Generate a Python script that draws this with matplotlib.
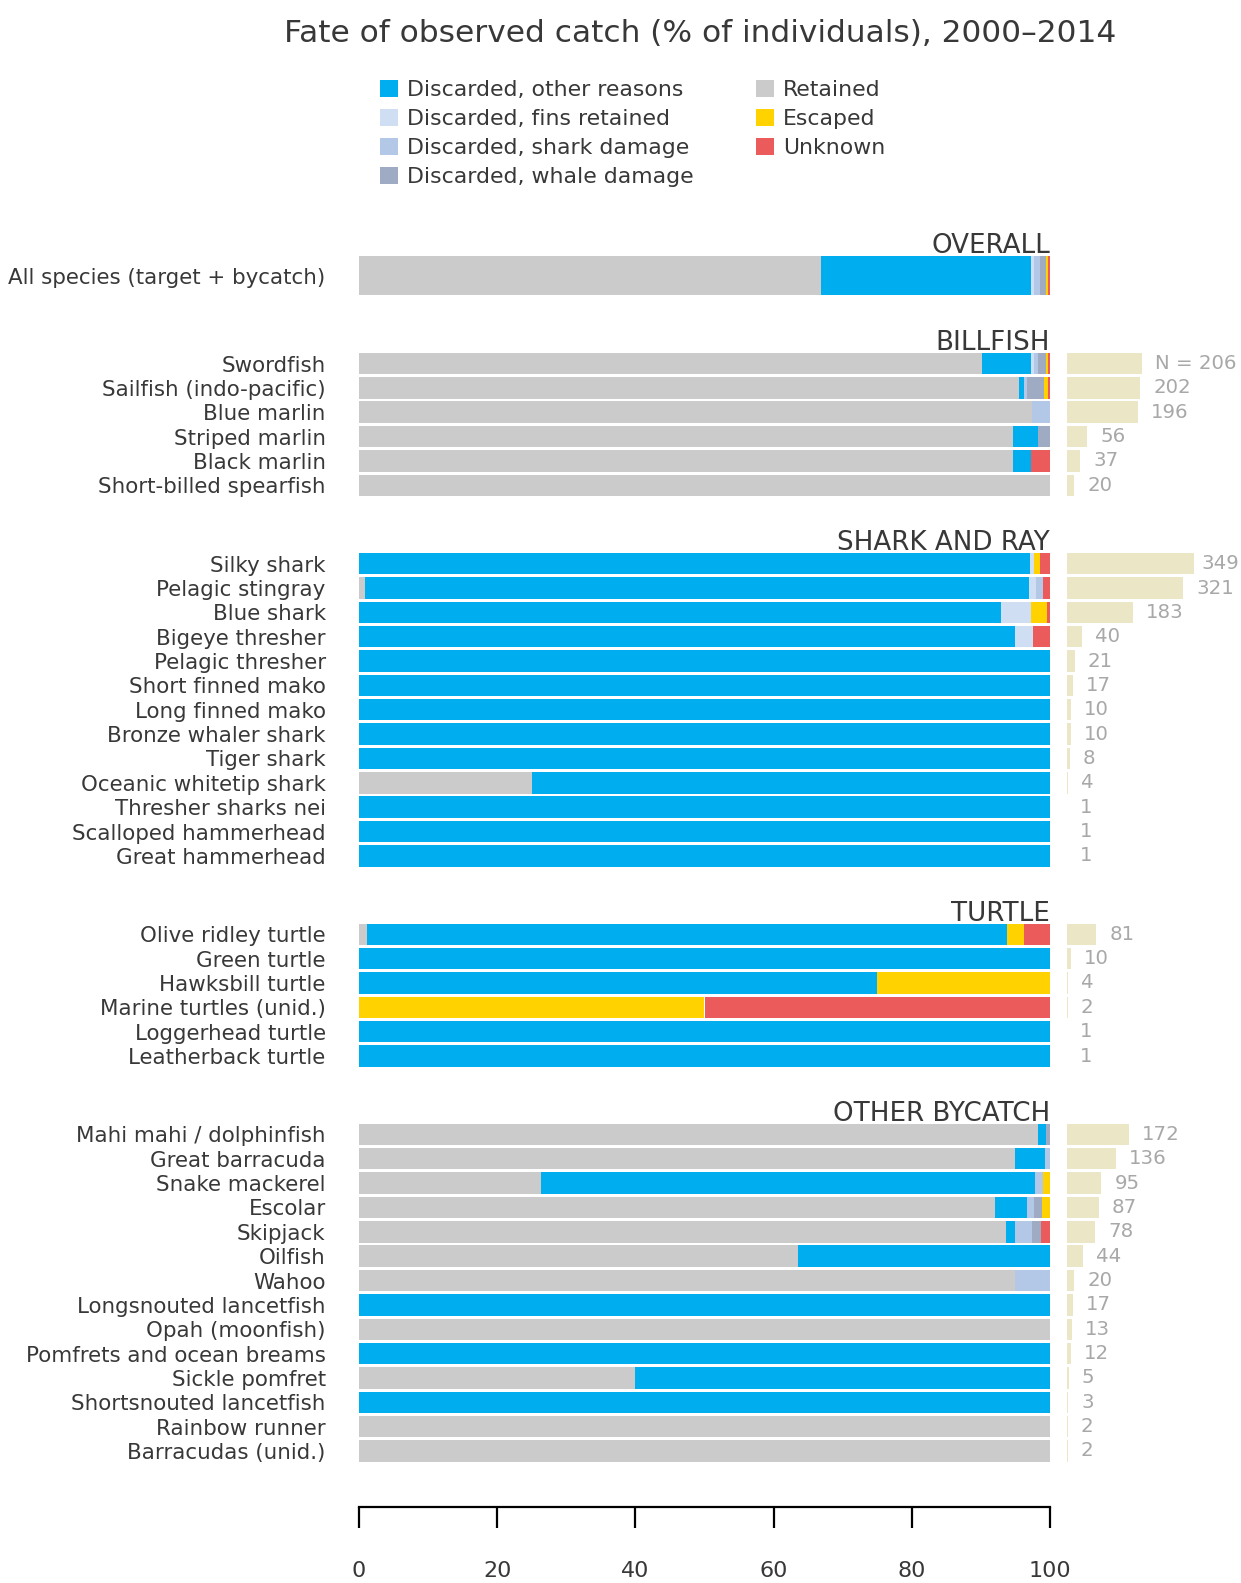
import matplotlib
matplotlib.use('Agg')
import matplotlib.pyplot as plt
from matplotlib.patches import Patch
import numpy as np

# ---------------- data ----------------
title = "Fate of observed catch (% of individuals), 2000–2014"

fate_names = ["Discarded, other reasons", "Discarded, fins retained",
              "Discarded, shark damage", "Discarded, whale damage",
              "Retained", "Escaped", "Unknown"]
fate_colors = ["#00aeef", "#d0def4", "#b3c8e6", "#9eabc2",
               "#cbcbcb", "#ffd200", "#ec5b5b"]

group_names = ["OVERALL", "BILLFISH", "SHARK AND RAY", "TURTLE", "OTHER BYCATCH"]

overall_species = ["All species (target + bycatch)"]
billfish_species = ["Swordfish", "Sailfish (indo-pacific)", "Blue marlin",
                    "Striped marlin", "Black marlin", "Short-billed spearfish"]
shark_species = ["Silky shark", "Pelagic stingray", "Blue shark", "Bigeye thresher",
                 "Pelagic thresher", "Short finned mako", "Long finned mako",
                 "Bronze whaler shark", "Tiger shark", "Oceanic whitetip shark",
                 "Thresher sharks nei", "Scalloped hammerhead", "Great hammerhead"]
turtle_species = ["Olive ridley turtle", "Green turtle", "Hawksbill turtle",
                  "Marine turtles (unid.)", "Loggerhead turtle", "Leatherback turtle"]
other_species = ["Mahi mahi / dolphinfish", "Great barracuda", "Snake mackerel",
                 "Escolar", "Skipjack", "Oilfish", "Wahoo", "Longsnouted lancetfish",
                 "Opah (moonfish)", "Pomfrets and ocean breams", "Sickle pomfret",
                 "Shortsnouted lancetfish", "Rainbow runner", "Barracudas (unid.)"]

# percentages per row (order: overall, billfish, sharks, turtles, other)
retained = [66.8,
            90.2, 95.5, 97.4, 94.6, 94.6, 100,
            0, 0.9, 0, 0, 0, 0, 0, 0, 0, 25, 0, 0, 0,
            1.2, 0, 0, 0, 0, 0,
            98.3, 94.9, 26.3, 92.0, 93.6, 63.6, 95, 0, 100, 0, 40, 0, 100, 100]
disc_other = [30.4,
              7.0, 0.7, 0, 3.6, 2.7, 0,
              97.1, 96.1, 92.9, 95.0, 100, 100, 100, 100, 100, 75, 100, 100, 100,
              92.6, 100, 75, 0, 100, 100,
              1.1, 4.4, 71.6, 4.6, 1.3, 36.4, 0, 100, 0, 100, 60, 100, 0, 0]
disc_fins = [0.5,
             0.5, 0, 0, 0, 0, 0,
             0.6, 1.0, 4.4, 2.5, 0, 0, 0, 0, 0, 0, 0, 0, 0,
             0, 0, 0, 0, 0, 0,
             0, 0, 0, 0, 0, 0, 0, 0, 0, 0, 0, 0, 0, 0]
disc_shark = [0.8,
              0.6, 0.5, 2.6, 0, 0, 0,
              0, 1.0, 0, 0, 0, 0, 0, 0, 0, 0, 0, 0, 0,
              0, 0, 0, 0, 0, 0,
              0, 0.7, 1.05, 1.15, 2.55, 0, 5, 0, 0, 0, 0, 0, 0, 0]
disc_whale = [0.9,
              1.1, 2.5, 0, 1.8, 0, 0,
              0, 0, 0, 0, 0, 0, 0, 0, 0, 0, 0, 0, 0,
              0, 0, 0, 0, 0, 0,
              0.6, 0, 0, 1.15, 1.3, 0, 0, 0, 0, 0, 0, 0, 0, 0]
escaped = [0.3,
           0.3, 0.5, 0, 0, 0, 0,
           0.9, 0, 2.2, 0, 0, 0, 0, 0, 0, 0, 0, 0, 0,
           2.5, 0, 25, 50, 0, 0,
           0, 0, 1.05, 1.1, 0, 0, 0, 0, 0, 0, 0, 0, 0, 0]
unknown = [0.3,
           0.3, 0.3, 0, 0, 2.7, 0,
           1.4, 1.0, 0.5, 2.5, 0, 0, 0, 0, 0, 0, 0, 0, 0,
           3.7, 0, 0, 50, 0, 0,
           0, 0, 0, 0, 1.25, 0, 0, 0, 0, 0, 0, 0, 0, 0]

# sample sizes (overall has none)
n_billfish = [206, 202, 196, 56, 37, 20]
n_shark = [349, 321, 183, 40, 21, 17, 10, 10, 8, 4, 1, 1, 1]
n_turtle = [81, 10, 4, 2, 1, 1]
n_other = [172, 136, 95, 87, 78, 44, 20, 17, 13, 12, 5, 3, 2, 2]

# ---------------- style ----------------
plt.rcParams['font.family'] = ['DejaVu Sans']
txt_color = '#383838'

W, H = 1241, 1583
fig = plt.figure(figsize=(W / 100, H / 100), dpi=100)

# layout (row units)
unit = 24.35          # px per row
y_first_px = 275.6    # pixel centre of first row
first_gap = 3.61
group_gap = 3.22
overall_h = 1.58
row_h = 0.88

group_lists = [overall_species, billfish_species, shark_species, turtle_species, other_species]
ypos, heights, labels, group_start = [], [], [], []
y = 0.0
for gi, lst in enumerate(group_lists):
    if gi == 1:
        y += first_gap - 1
    elif gi > 1:
        y += group_gap - 1
    group_start.append(y)
    for s in lst:
        ypos.append(y)
        heights.append(overall_h if gi == 0 else row_h)
        labels.append(s)
        y += 1
ypos = np.array(ypos)
heights = np.array(heights)

ytop = -2.0
ybot = (1507 - y_first_px) / unit
ax_bottom = 1 - 1507 / H
ax_height = (1507 - (y_first_px + ytop * unit)) / H
ax = fig.add_axes([359 / W, ax_bottom, (1050 - 359) / W, ax_height])

series = [retained, disc_other, disc_fins, disc_shark, disc_whale, escaped, unknown]
series_colors = [fate_colors[4], fate_colors[0], fate_colors[1], fate_colors[2],
                 fate_colors[3], fate_colors[5], fate_colors[6]]
left = np.zeros(len(ypos))
for vals, col in zip(series, series_colors):
    vals = np.array(vals, dtype=float)
    ax.barh(ypos, vals, left=left, height=heights, color=col, linewidth=0)
    left += vals

ax.set_xlim(0, 100)
ax.set_ylim(ybot, ytop)
ax.set_yticks(ypos)
ax.set_yticklabels(labels, fontsize=15.4, color=txt_color)
ax.tick_params(axis='y', length=0, pad=24)
ax.set_xticks(range(0, 101, 20))
ax.tick_params(axis='x', direction='out', length=15, width=1.6, pad=24,
               labelsize=16, labelcolor=txt_color, color='black')
for side in ['top', 'right', 'left']:
    ax.spines[side].set_visible(False)
ax.spines['bottom'].set_linewidth(1.6)
ax.spines['bottom'].set_color('black')

# group headers
for gi, name in enumerate(group_names):
    y0 = group_start[gi]
    h = overall_h if gi == 0 else row_h
    ax.text(100, y0 - h / 2 - 0.12, name, ha='right', va='baseline',
            fontsize=18.8, color=txt_color)

# sample size bars
n_all = n_billfish + n_shark + n_turtle + n_other
n_pos = ypos[1:]
px_per_n = 0.3625
nax = fig.add_axes([1067 / W, ax_bottom, (W - 1067) / W, ax_height], sharey=ax)
n_xmax = (W - 1067) / px_per_n
nax.set_xlim(0, n_xmax)
nax.axis('off')
nax.barh(n_pos, n_all, height=row_h, color='#ebe6c6', linewidth=0)
gap = 13 / px_per_n
for i, (yy, n) in enumerate(zip(n_pos, n_all)):
    lab = f"N = {n}" if i == 0 else str(n)
    if n + gap + 40 / px_per_n > n_xmax and i != 0:
        nax.text(n_xmax - 2 / px_per_n, yy, lab, va='center', ha='right',
                 fontsize=14.2, color='#a8a8a8')
    else:
        nax.text(n + gap, yy, lab, va='center', ha='left',
                 fontsize=14.2, color='#a8a8a8')

# title
fig.text(700 / W, 1 - 33 / H, title, ha='center', va='center', fontsize=22.5,
         color=txt_color)

# legend
handles = [Patch(facecolor=c, edgecolor='none') for c in fate_colors]
leg = fig.legend(handles, fate_names, ncol=2, loc='upper left',
                 bbox_to_anchor=(380 / W, 1 - 80 / H), frameon=False,
                 fontsize=15.8, handlelength=0.82, handleheight=0.82,
                 handletextpad=0.41, labelspacing=0.4, columnspacing=2.85,
                 borderpad=0, borderaxespad=0)
for t in leg.get_texts():
    t.set_color(txt_color)

fig.savefig('out.png', dpi=100)
